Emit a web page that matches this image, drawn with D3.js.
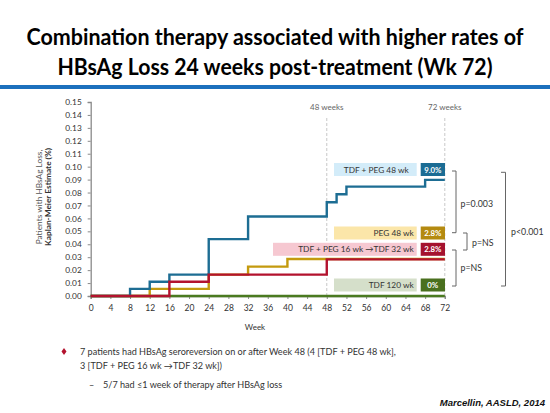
<!DOCTYPE html>
<html><head><meta charset="utf-8">
<script src="https://cdn.jsdelivr.net/npm/d3@7"></script>
<style>body{margin:0;background:#fff}svg{display:block}</style>
</head><body>
<script>
// ---- data ----
const titleLines = ["Combination therapy associated with higher rates of", "HBsAg Loss 24 weeks post-treatment (Wk 72)"];
const seriesNames = ["TDF + PEG 48 wk", "PEG 48 wk", "TDF + PEG 16 wk \u2192TDF 32 wk", "TDF 120 wk"];
const seriesFinal = ["9.0%", "2.8%", "2.8%", "0%"];
const blueWeeks = [0, 8, 12, 16, 24, 32, 48, 50, 52, 68, 72];
const blueRates = [0, 0.0055, 0.011, 0.0165, 0.044, 0.0615, 0.0725, 0.0787, 0.0846, 0.0898, 0.0898];
const goldWeeks = [0, 12, 24, 32, 40, 72];
const goldRates = [0, 0.0055, 0.0165, 0.0227, 0.0286, 0.0286];
const redWeeks = [0, 16, 24, 48, 72];
const redRates = [0, 0.011, 0.0165, 0.0283, 0.0283];
const greenWeeks = [0, 72];
const greenRates = [0, 0];
const xTicks = [0,4,8,12,16,20,24,28,32,36,40,44,48,52,56,60,64,68,72];
const yTicks = [0,0.01,0.02,0.03,0.04,0.05,0.06,0.07,0.08,0.09,0.10,0.11,0.12,0.13,0.14,0.15];
const markerWeeks = [48, 72];
const markerLabels = ["48 weeks", "72 weeks"];
const pLabels = ["p=0.003", "p=NS", "p=NS", "p<0.001"];
const bullet1 = ["7 patients had HBsAg seroreversion on or after Week 48 (4 [TDF + PEG 48 wk],", "3 [TDF + PEG 16 wk \u2192TDF 32 wk])"];
const bullet2 = "5/7 had \u22641 week of therapy after HBsAg loss";
const citation = "Marcellin, AASLD, 2014";

const W = 550, H = 413;
const svg = d3.select("body").append("svg").attr("width", W).attr("height", H);
const font = "Lato, 'Open Sans', sans-serif";

// title
svg.append("text").attr("x", 275).attr("y", 45).attr("text-anchor", "middle")
  .attr("font-family", font).attr("font-weight", 700).attr("font-size", 22)
  .attr("textLength", 497).attr("lengthAdjust", "spacingAndGlyphs").text(titleLines[0]);
svg.append("text").attr("x", 275).attr("y", 75).attr("text-anchor", "middle")
  .attr("font-family", font).attr("font-weight", 700).attr("font-size", 22)
  .attr("textLength", 435).attr("lengthAdjust", "spacingAndGlyphs").text(titleLines[1]);
svg.append("rect").attr("x", 0).attr("y", 85).attr("width", W).attr("height", 4).attr("fill", "#1c70bd");

// scales
const x = d3.scaleLinear().domain([0, 72]).range([90.7, 444.8]);
const y = d3.scaleLinear().domain([0, 0.15]).range([296, 102]);

// marker dashed lines
markerWeeks.forEach((w, i) => {
  svg.append("line").attr("x1", x(w)).attr("x2", x(w)).attr("y1", 118).attr("y2", y(0))
    .attr("stroke", "#c8c8c8").attr("stroke-width", 1).attr("stroke-dasharray", "3,2");
  svg.append("text").attr("x", x(w)).attr("y", 110).attr("text-anchor", "middle")
    .attr("font-family", font).attr("font-size", 8).attr("fill", "#666").text(markerLabels[i]);
});

// axes
const yAxis = svg.append("g").attr("transform", `translate(${x(0)},0)`)
  .call(d3.axisLeft(y).tickValues(yTicks).tickFormat(d3.format(".2f")).tickSize(3).tickPadding(6));
const xAxis = svg.append("g").attr("transform", `translate(0,${y(0)})`)
  .call(d3.axisBottom(x).tickValues(xTicks).tickFormat(d3.format("d")).tickSize(3).tickPadding(6));
[yAxis, xAxis].forEach(g => {
  g.selectAll("path").attr("stroke", "#8a8a8a").attr("stroke-width", 1.3);
  g.selectAll("line").attr("stroke", "#8a8a8a");
  g.selectAll("text").attr("font-family", font).attr("font-size", 8.3).attr("fill", "#333");
});
xAxis.selectAll("text").attr("font-size", 8.5);

// y label
const yl = svg.append("text").attr("transform", "translate(42,197) rotate(-90)").attr("text-anchor", "middle")
  .attr("font-family", font).attr("font-size", 8.3).attr("fill", "#555");
yl.append("tspan").attr("x", 0).attr("dy", 0).text("Patients  with HBsAg Loss,");
yl.append("tspan").attr("x", 0).attr("dy", 8.5).attr("font-weight", 700).attr("fill", "#333").text("Kaplan-Meier Estimate (%)");

svg.append("text").attr("x", 255).attr("y", 330).attr("text-anchor", "middle")
  .attr("font-family", font).attr("font-size", 8).attr("fill", "#333").text("Week");

// lines
const line = d3.line().x(d => x(d[0])).y(d => y(d[1])).curve(d3.curveStepAfter);
const series = [
  {w: greenWeeks, r: greenRates, c: "#4a7a20"},
  {w: goldWeeks, r: goldRates, c: "#c49a0e"},
  {w: blueWeeks, r: blueRates, c: "#1d6d93"},
  {w: redWeeks, r: redRates, c: "#b3122e"}
];
series.forEach(s => {
  svg.append("path").attr("d", line(d3.zip(s.w, s.r))).attr("fill", "none")
    .attr("stroke", s.c).attr("stroke-width", 2.4);
});

// label boxes
const boxes = [
  {x0: 334, yc: 169.5, light: "#d3ecf9", dark: "#1b6c94", pad: 8},
  {x0: 334, yc: 233, light: "#fbe6a9", dark: "#b48a10", pad: 3},
  {x0: 273, yc: 249.3, light: "#f6c8d1", dark: "#a5122f", pad: 3},
  {x0: 334, yc: 285, light: "#d5dfca", dark: "#4a701f", pad: 3}
];
boxes.forEach((b, i) => {
  svg.append("rect").attr("x", b.x0).attr("y", b.yc - 6.5).attr("width", 416.7 - b.x0).attr("height", 13).attr("fill", b.light);
  svg.append("text").attr("x", 416.7 - b.pad).attr("y", b.yc + 3).attr("text-anchor", "end")
    .attr("font-family", font).attr("font-size", 8.3).attr("fill", "#333").text(seriesNames[i]);
  svg.append("rect").attr("x", 420.7).attr("y", b.yc - 6.5).attr("width", 24.3).attr("height", 13).attr("fill", b.dark);
  svg.append("text").attr("x", 432.8).attr("y", b.yc + 3).attr("text-anchor", "middle")
    .attr("font-family", font).attr("font-weight", 700).attr("font-size", 7.8).attr("fill", "#fff").text(seriesFinal[i]);
});

// brackets
function bracket(xl, xr, y0, y1, label, lx, ly) {
  svg.append("path").attr("d", `M${xl},${y0}H${xr}V${y1}H${xl}`).attr("fill", "none").attr("stroke", "#666").attr("stroke-width", 1);
  svg.append("text").attr("x", lx).attr("y", ly).attr("font-family", font).attr("font-size", 8.8).attr("fill", "#333").text(label);
}
bracket(452, 456, 171, 232.7, pLabels[0], 460.5, 207);
bracket(463, 467, 233, 250, pLabels[1], 472, 246);
bracket(452, 456, 250, 286, pLabels[2], 460.5, 271);
bracket(501, 505.5, 172.3, 286, pLabels[3], 511, 235);

// bullet text
svg.append("path").attr("d", "M64,348 L66.5,351.5 L64,355 L61.5,351.5Z").attr("fill", "#b3122e");
const bt = svg.append("text").attr("font-family", font).attr("font-size", 9.1).attr("fill", "#333");
bt.append("tspan").attr("x", 80).attr("y", 355).text(bullet1[0]);
bt.append("tspan").attr("x", 80).attr("y", 369).text(bullet1[1]);
svg.append("text").attr("x", 89).attr("y", 388).attr("font-family", font).attr("font-size", 9.1).attr("fill", "#333").text("\u2013");
svg.append("text").attr("x", 103).attr("y", 388).attr("font-family", font).attr("font-size", 9.1).attr("fill", "#333").text(bullet2);

svg.append("text").attr("x", 545).attr("y", 406).attr("text-anchor", "end")
  .attr("font-family", "'Liberation Sans', Arial, sans-serif").attr("font-weight", 700).attr("font-style", "italic")
  .attr("font-size", 9.5).attr("fill", "#111").text(citation);
</script>
</body></html>
